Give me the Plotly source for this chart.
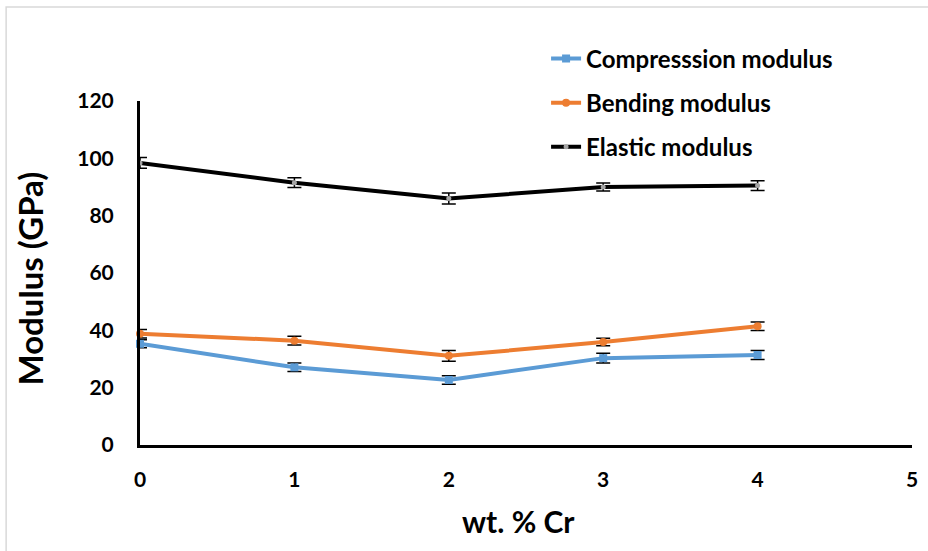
import plotly.graph_objects as go

x_vals = [0, 1, 2, 3, 4]
compression = [35.3, 27.1, 22.7, 30.3, 31.4]
compression_err = [1.4, 1.5, 1.5, 1.7, 1.6]
bending = [38.8, 36.4, 31.1, 35.9, 41.4]
bending_err = [1.5, 1.5, 1.9, 1.3, 1.5]
elastic = [98.4, 91.5, 86.0, 90.0, 90.5]
elastic_err = [1.9, 1.7, 1.9, 1.4, 1.7]

x_ticks = [0, 1, 2, 3, 4, 5]
y_ticks = [0, 20, 40, 60, 80, 100, 120]

FONT = "Lato"

fig = go.Figure()

def add(name, y, err, color, symbol, msize, mcolor, group):
    fig.add_trace(go.Scatter(
        x=x_vals, y=y, name=name, mode="lines+markers",
        line=dict(color=color, width=4),
        marker=dict(symbol=symbol, size=msize, color=mcolor),
        error_y=dict(type="data", array=err, visible=True, color="black",
                     thickness=1.5, width=7),
        legendgroup=group, cliponaxis=False,
    ))

add("Compresssion modulus", compression, compression_err, "#5B9BD5", "square", 8, "#5B9BD5", "a")
add("Bending modulus", bending, bending_err, "#ED7D31", "circle", 8, "#ED7D31", "b")
add("Elastic modulus", elastic, elastic_err, "#000000", "circle", 5, "#A5A5A5", "c")

fig.update_layout(
    width=928, height=551,
    margin=dict(l=140, r=16, t=101, b=106, autoexpand=False),
    paper_bgcolor="white", plot_bgcolor="white",
    font=dict(family=FONT, color="black"),
    showlegend=True,
    legend=dict(x=0.526, y=1.188, xanchor="left", yanchor="top",
                font=dict(size=24, family=FONT, color="black", weight="bold"),
                bgcolor="rgba(0,0,0,0)", traceorder="grouped", tracegroupgap=10),
    xaxis=dict(range=[0, 5], tickvals=x_ticks, showgrid=False, zeroline=False,
               showline=True, linecolor="black", linewidth=3, automargin=False,
               ticks="", ticklabelstandoff=14,
               tickfont=dict(size=21, family=FONT, weight="bold")),
    yaxis=dict(range=[0, 120], tickvals=y_ticks, showgrid=False, zeroline=False,
               showline=True, linecolor="black", linewidth=3, automargin=False,
               ticks="", ticklabelstandoff=19,
               tickfont=dict(size=21, family=FONT, weight="bold")),
    annotations=[
        dict(text="wt. % Cr", xref="paper", yref="paper", x=0.490, y=-0.221,
             xanchor="center", yanchor="middle", showarrow=False,
             font=dict(size=30, family=FONT, weight="bold", color="black")),
        dict(text="Modulus (GPa)", xref="paper", yref="paper", x=-0.142, y=0.485,
             xanchor="center", yanchor="middle", showarrow=False, textangle=-90,
             font=dict(size=33, family=FONT, weight="bold", color="black")),
    ],
    shapes=[dict(type="rect", xref="paper", yref="paper", x0=-0.1734, x1=1.2, y0=1.273, y1=-0.5,
                 line=dict(color="#D9D9D9", width=1.5), layer="below")],
)

fig.write_html("out.html")
